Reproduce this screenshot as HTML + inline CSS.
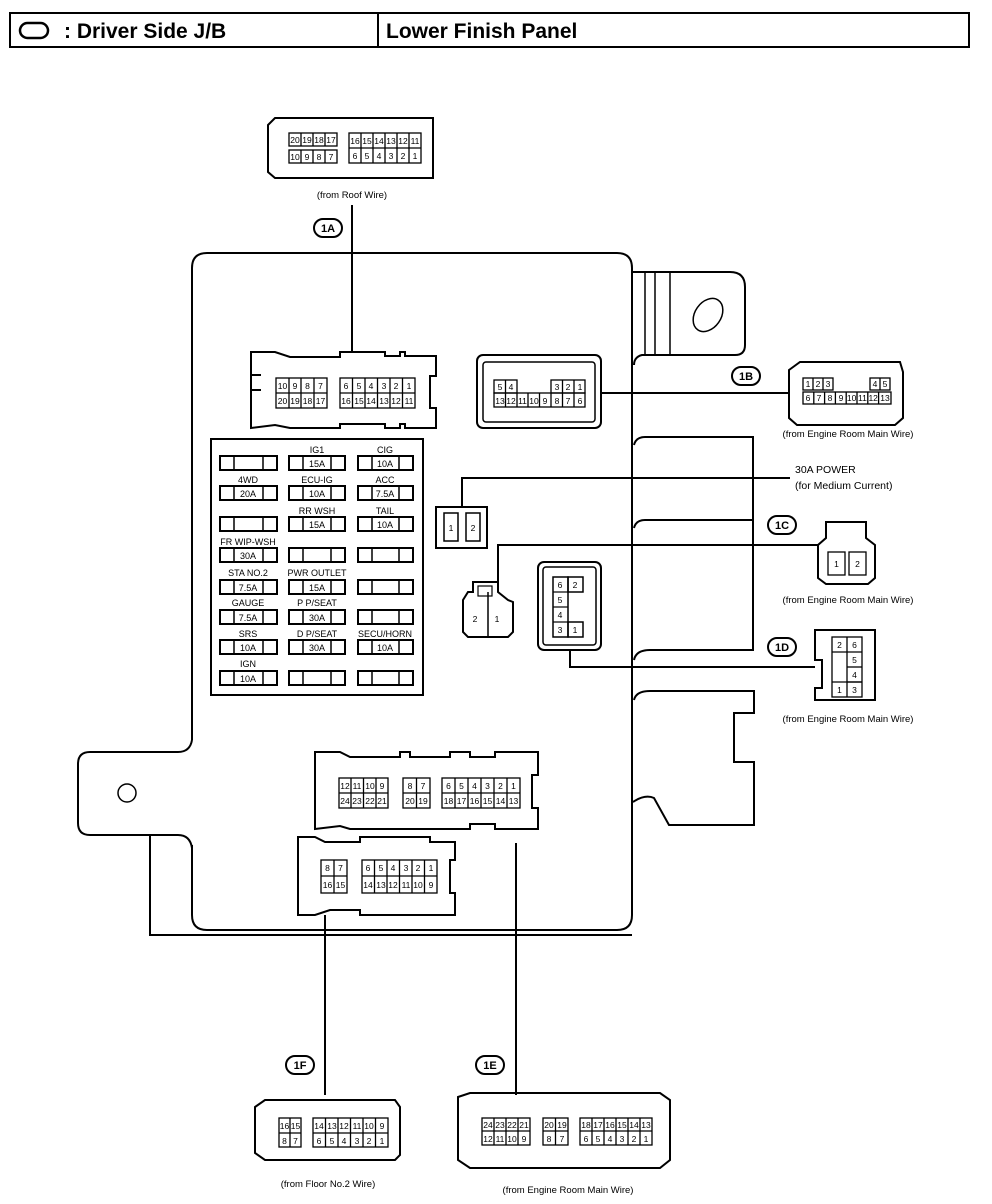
<!DOCTYPE html>
<html><head><meta charset="utf-8"><style>
html,body{margin:0;padding:0;background:#fff;}
svg{display:block}
text{font-family:"Liberation Sans",sans-serif;fill:#000}
.p{font-size:8.5px;text-anchor:middle}
.l{font-size:9.5px;text-anchor:middle}
.c{font-size:11px;text-anchor:middle;font-weight:bold}
</style></head><body>
<svg width="992" height="1204" viewBox="0 0 992 1204" xmlns="http://www.w3.org/2000/svg" fill="none" stroke="#000" stroke-width="2">
<!-- header -->
<rect x="10" y="13" width="959" height="34" stroke-width="2"/>
<line x1="378" y1="13" x2="378" y2="47"/>
<rect x="20" y="23" width="28" height="15" rx="7.5" stroke-width="2.5"/>
<text x="64" y="38" style="font-size:21px;font-weight:bold" stroke="none">: Driver Side J/B</text>
<text x="386" y="38" style="font-size:21px;font-weight:bold" stroke="none">Lower Finish Panel</text>

<!-- body -->
<path d="M192,740 L192,268 Q192,253 207,253 L617,253 Q632,253 632,268 L632,915 Q632,930 617,930 L207,930 Q192,930 192,915 L192,845"/>
<path d="M192,740 Q190,752 178,752 L90,752 Q78,752 78,764 L78,823 Q78,835 90,835 L178,835 Q190,835 192,848"/>
<path d="M150,835 L150,935 L632,935"/>
<circle cx="127" cy="793" r="9" stroke-width="1.5"/>
<!-- right bracket -->
<path d="M632,272 L730,272 Q745,272 745,287 L745,345 Q745,355 735,355 L642,355 Q634,357 634,365"/>
<line x1="645" y1="272" x2="645" y2="355" stroke-width="1.5"/>
<line x1="655" y1="272" x2="655" y2="355" stroke-width="1.5"/>
<line x1="670" y1="272" x2="670" y2="355" stroke-width="1.5"/>
<ellipse cx="708" cy="315" rx="13" ry="18" transform="rotate(35 708 315)" stroke-width="1.5"/>
<path d="M634,445 Q636,437 645,437 L753,437 L753,650 L650,650 Q636,650 634,660"/>
<path d="M634,528 Q636,520 645,520 L753,520"/>
<path d="M634,700 Q636,691 650,691 L754,691 L754,713 L734,713 L734,762 L754,762 L754,825 L669,825 L654,798 Q645,794 633,802"/>

<!-- 1A internal connector -->
<path d="M251,352 L275,352 L290,357 L340,357 L340,352 L385,352 L385,356 L400,356 L400,352 L405,352 L405,356 L436,356 L436,376 L430,376 L430,408 L436,408 L436,428 L405,428 L405,424 L400,424 L400,428 L385,428 L385,424 L340,424 L340,428 L290,428 L275,425 L251,428 Z"/>
<line x1="251" y1="375" x2="261" y2="375"/><line x1="251" y1="390" x2="261" y2="390"/>
<!-- fuse block -->
<rect x="211" y="439" width="212" height="256"/>

<!-- 1B internal -->
<rect x="477" y="355" width="124" height="73" rx="6"/>
<rect x="483" y="362" width="112" height="60" rx="3" stroke-width="1.5"/>
<!-- 30A -->
<rect x="436" y="507" width="51" height="41"/>
<rect x="444" y="513" width="14" height="28" stroke-width="1.5"/><rect x="466" y="513" width="14" height="28" stroke-width="1.5"/>
<text x="451" y="531" class="p" stroke="none">1</text><text x="473" y="531" class="p" stroke="none">2</text>
<polyline points="462,507 462,478 790,478"/>
<!-- 1C internal -->
<path d="M473,582 L498,582 L498,592 L508,600 L513,602 L513,632 L508,637 L468,637 L463,632 L463,600 L468,592 L473,592 Z"/>
<line x1="488" y1="592" x2="488" y2="637" stroke-width="1.5"/>
<rect x="478" y="586" width="14" height="10" stroke-width="1.2"/>
<text x="475" y="622" class="p" stroke="none">2</text><text x="497" y="622" class="p" stroke="none">1</text>
<polyline points="498,582 498,545 818,545"/>
<!-- 1D internal -->
<rect x="538" y="562" width="63" height="88" rx="6"/>
<rect x="543" y="567" width="53" height="78" rx="3" stroke-width="1.5"/>
<rect x="553" y="577" width="15" height="60" stroke-width="1.5"/>
<rect x="568" y="577" width="15" height="15" stroke-width="1.5"/><rect x="568" y="622" width="15" height="15" stroke-width="1.5"/>
<line x1="553" y1="592" x2="568" y2="592" stroke-width="1.2"/><line x1="553" y1="607" x2="568" y2="607" stroke-width="1.2"/><line x1="553" y1="622" x2="568" y2="622" stroke-width="1.2"/>
<g class="p" stroke="none"><text x="560" y="588">6</text><text x="575" y="588">2</text><text x="560" y="603">5</text><text x="560" y="618">4</text><text x="560" y="633">3</text><text x="575" y="633">1</text></g>
<polyline points="570,650 570,667 815,667"/>

<!-- 1E internal -->
<path d="M315,752 L340,752 L350,757 L400,757 L400,752 L410,752 L410,757 L450,757 L450,752 L470,752 L470,757 L495,757 L495,752 L538,752 L538,775 L532,775 L532,808 L538,808 L538,829 L495,829 L495,824 L470,824 L470,829 L350,829 L340,826 L315,829 Z"/>
<!-- 1F internal -->
<path d="M298,837 L315,837 L325,842 L360,842 L360,837 L430,837 L430,842 L455,842 L455,860 L450,860 L450,893 L455,893 L455,915 L360,915 L360,910 L330,910 L315,915 L298,915 Z"/>
<line x1="325" y1="915" x2="325" y2="1095"/>
<line x1="516" y1="843" x2="516" y2="1095"/>
<line x1="352" y1="205" x2="352" y2="352"/>
<line x1="601" y1="393" x2="789" y2="393"/>

<!-- labels ovals -->
<g stroke-width="2">
<rect x="314" y="219" width="28" height="18" rx="9"/>
<rect x="732" y="367" width="28" height="18" rx="9"/>
<rect x="768" y="516" width="28" height="18" rx="9"/>
<rect x="768" y="638" width="28" height="18" rx="9"/>
<rect x="286" y="1056" width="28" height="18" rx="9"/>
<rect x="476" y="1056" width="28" height="18" rx="9"/>
</g>
<g class="c" stroke="none">
<text x="328" y="232">1A</text><text x="746" y="380">1B</text><text x="782" y="529">1C</text><text x="782" y="651">1D</text><text x="300" y="1069">1F</text><text x="490" y="1069">1E</text>
</g>

<!-- external connectors outlines -->
<g stroke-width="2">
<path d="M268,125 L275,118 L433,118 L433,178 L275,178 L268,172 Z"/>
<path d="M789,370 L800,362 L900,362 L903,372 L903,418 L895,425 L797,425 L789,418 Z"/>
<path d="M826,522 L866,522 L866,538 L875,545 L875,578 L868,584 L826,584 L818,578 L818,545 L826,538 Z"/>
<path d="M815,630 L875,630 L875,700 L815,700 L815,688 L822,688 L822,660 L815,660 Z"/>
<path d="M458,1097 L470,1093 L660,1093 L670,1100 L670,1160 L660,1168 L470,1168 L458,1160 Z"/>
<path d="M255,1107 L265,1100 L395,1100 L400,1107 L400,1155 L395,1160 L265,1160 L255,1153 Z"/>
</g>

<g class="l" stroke="none">
<text x="352" y="198">(from Roof Wire)</text>
<text x="848" y="437">(from Engine Room Main Wire)</text>
<text x="848" y="603">(from Engine Room Main Wire)</text>
<text x="848" y="722">(from Engine Room Main Wire)</text>
<text x="328" y="1187">(from Floor No.2 Wire)</text>
<text x="568" y="1193">(from Engine Room Main Wire)</text>
<text x="795" y="473" style="text-anchor:start;font-size:10.5px">30A POWER</text>
<text x="795" y="489" style="text-anchor:start;font-size:10.5px">(for Medium Current)</text>
</g>

<g stroke-width="1.3">
<rect x="276" y="378" width="51" height="30"/><line x1="276" y1="393" x2="327" y2="393"/>
<line x1="289" y1="378" x2="289" y2="408"/><line x1="301" y1="378" x2="301" y2="408"/><line x1="314" y1="378" x2="314" y2="408"/>
<rect x="340" y="378" width="75" height="30"/><line x1="340" y1="393" x2="415" y2="393"/>
<line x1="352.5" y1="378" x2="352.5" y2="408"/><line x1="365" y1="378" x2="365" y2="408"/><line x1="377.5" y1="378" x2="377.5" y2="408"/><line x1="390" y1="378" x2="390" y2="408"/><line x1="402.5" y1="378" x2="402.5" y2="408"/>
<rect x="494" y="380" width="23" height="13"/><line x1="505.5" y1="380" x2="505.5" y2="393"/>
<rect x="551" y="380" width="34" height="13"/><line x1="562.5" y1="380" x2="562.5" y2="393"/><line x1="574" y1="380" x2="574" y2="393"/>
<rect x="494" y="393" width="91" height="14"/>
<line x1="505.5" y1="393" x2="505.5" y2="407"/><line x1="517" y1="393" x2="517" y2="407"/><line x1="528" y1="393" x2="528" y2="407"/><line x1="539.5" y1="393" x2="539.5" y2="407"/><line x1="551" y1="393" x2="551" y2="407"/><line x1="562.5" y1="393" x2="562.5" y2="407"/><line x1="574" y1="393" x2="574" y2="407"/>
<rect x="339" y="778" width="49" height="30"/><line x1="339" y1="793" x2="388" y2="793"/>
<line x1="351" y1="778" x2="351" y2="808"/><line x1="363.5" y1="778" x2="363.5" y2="808"/><line x1="376" y1="778" x2="376" y2="808"/>
<rect x="403" y="778" width="27" height="30"/><line x1="403" y1="793" x2="430" y2="793"/><line x1="416.5" y1="778" x2="416.5" y2="808"/>
<rect x="442" y="778" width="78" height="30"/><line x1="442" y1="793" x2="520" y2="793"/>
<line x1="455" y1="778" x2="455" y2="808"/><line x1="468" y1="778" x2="468" y2="808"/><line x1="481" y1="778" x2="481" y2="808"/><line x1="494" y1="778" x2="494" y2="808"/><line x1="507" y1="778" x2="507" y2="808"/>
<rect x="321" y="860" width="26" height="33"/><line x1="321" y1="876" x2="347" y2="876"/><line x1="334" y1="860" x2="334" y2="893"/>
<rect x="362" y="860" width="75" height="33"/><line x1="362" y1="876" x2="437" y2="876"/>
<line x1="374.5" y1="860" x2="374.5" y2="893"/><line x1="387" y1="860" x2="387" y2="893"/><line x1="399.5" y1="860" x2="399.5" y2="893"/><line x1="412" y1="860" x2="412" y2="893"/><line x1="424.5" y1="860" x2="424.5" y2="893"/>
<rect x="289" y="133" width="48" height="13"/><line x1="301" y1="133" x2="301" y2="146"/><line x1="313" y1="133" x2="313" y2="146"/><line x1="325" y1="133" x2="325" y2="146"/>
<rect x="289" y="150" width="48" height="13"/><line x1="301" y1="150" x2="301" y2="163"/><line x1="313" y1="150" x2="313" y2="163"/><line x1="325" y1="150" x2="325" y2="163"/>
<rect x="349" y="133" width="72" height="30"/><line x1="349" y1="148" x2="421" y2="148"/>
<line x1="361" y1="133" x2="361" y2="163"/><line x1="373" y1="133" x2="373" y2="163"/><line x1="385" y1="133" x2="385" y2="163"/><line x1="397" y1="133" x2="397" y2="163"/><line x1="409" y1="133" x2="409" y2="163"/>
<rect x="803" y="378" width="30" height="12"/><line x1="813" y1="378" x2="813" y2="390"/><line x1="823" y1="378" x2="823" y2="390"/>
<rect x="870" y="378" width="20" height="12"/><line x1="880" y1="378" x2="880" y2="390"/>
<rect x="803" y="392" width="88" height="12"/>
<line x1="813.8" y1="392" x2="813.8" y2="404"/><line x1="824.6" y1="392" x2="824.6" y2="404"/><line x1="835.4" y1="392" x2="835.4" y2="404"/><line x1="846.2" y1="392" x2="846.2" y2="404"/><line x1="857" y1="392" x2="857" y2="404"/><line x1="867.8" y1="392" x2="867.8" y2="404"/><line x1="878.6" y1="392" x2="878.6" y2="404"/>
<rect x="828" y="552" width="17" height="23"/><rect x="849" y="552" width="17" height="23"/>
<rect x="832" y="637" width="30" height="60"/><line x1="832" y1="652" x2="862" y2="652"/><line x1="847" y1="667" x2="862" y2="667"/><line x1="847" y1="682" x2="862" y2="682"/><line x1="832" y1="682" x2="862" y2="682"/><line x1="847" y1="637" x2="847" y2="697"/>
<rect x="482" y="1118" width="48" height="27"/><line x1="482" y1="1131" x2="530" y2="1131"/><line x1="494" y1="1118" x2="494" y2="1145"/><line x1="506" y1="1118" x2="506" y2="1145"/><line x1="518" y1="1118" x2="518" y2="1145"/>
<rect x="543" y="1118" width="25" height="27"/><line x1="543" y1="1131" x2="568" y2="1131"/><line x1="555.5" y1="1118" x2="555.5" y2="1145"/>
<rect x="580" y="1118" width="72" height="27"/><line x1="580" y1="1131" x2="652" y2="1131"/><line x1="592" y1="1118" x2="592" y2="1145"/><line x1="604" y1="1118" x2="604" y2="1145"/><line x1="616" y1="1118" x2="616" y2="1145"/><line x1="628" y1="1118" x2="628" y2="1145"/><line x1="640" y1="1118" x2="640" y2="1145"/>
<rect x="279" y="1118" width="22" height="29"/><line x1="279" y1="1133" x2="301" y2="1133"/><line x1="290" y1="1118" x2="290" y2="1147"/>
<rect x="313" y="1118" width="75" height="29"/><line x1="313" y1="1133" x2="388" y2="1133"/><line x1="325.5" y1="1118" x2="325.5" y2="1147"/><line x1="338" y1="1118" x2="338" y2="1147"/><line x1="350.5" y1="1118" x2="350.5" y2="1147"/><line x1="363" y1="1118" x2="363" y2="1147"/><line x1="375.5" y1="1118" x2="375.5" y2="1147"/>
</g>
<g class="p" stroke="none">
<text x="282.5" y="389">10</text><text x="295" y="389">9</text><text x="307.5" y="389">8</text><text x="320.5" y="389">7</text>
<text x="282.5" y="404">20</text><text x="295" y="404">19</text><text x="307.5" y="404">18</text><text x="320.5" y="404">17</text>
<text x="346" y="389">6</text><text x="359" y="389">5</text><text x="371" y="389">4</text><text x="384" y="389">3</text><text x="396" y="389">2</text><text x="409" y="389">1</text>
<text x="346" y="404">16</text><text x="359" y="404">15</text><text x="371" y="404">14</text><text x="384" y="404">13</text><text x="396" y="404">12</text><text x="409" y="404">11</text>
<text x="500" y="390">5</text><text x="511" y="390">4</text><text x="557" y="390">3</text><text x="568" y="390">2</text><text x="580" y="390">1</text>
<text x="500" y="404">13</text><text x="511" y="404">12</text><text x="522.5" y="404">11</text><text x="534" y="404">10</text><text x="545" y="404">9</text><text x="557" y="404">8</text><text x="568" y="404">7</text><text x="580" y="404">6</text>
<text x="345" y="789">12</text><text x="357" y="789">11</text><text x="370" y="789">10</text><text x="382" y="789">9</text>
<text x="345" y="804">24</text><text x="357" y="804">23</text><text x="370" y="804">22</text><text x="382" y="804">21</text>
<text x="410" y="789">8</text><text x="423" y="789">7</text><text x="410" y="804">20</text><text x="423" y="804">19</text>
<text x="448.5" y="789">6</text><text x="461.5" y="789">5</text><text x="474.5" y="789">4</text><text x="487.5" y="789">3</text><text x="500.5" y="789">2</text><text x="513.5" y="789">1</text>
<text x="448.5" y="804">18</text><text x="461.5" y="804">17</text><text x="474.5" y="804">16</text><text x="487.5" y="804">15</text><text x="500.5" y="804">14</text><text x="513.5" y="804">13</text>
<text x="327.5" y="871">8</text><text x="340.5" y="871">7</text><text x="327.5" y="888">16</text><text x="340.5" y="888">15</text>
<text x="368" y="871">6</text><text x="381" y="871">5</text><text x="393" y="871">4</text><text x="406" y="871">3</text><text x="418" y="871">2</text><text x="431" y="871">1</text>
<text x="368" y="888">14</text><text x="381" y="888">13</text><text x="393" y="888">12</text><text x="406" y="888">11</text><text x="418" y="888">10</text><text x="431" y="888">9</text>
<text x="295" y="143">20</text><text x="307" y="143">19</text><text x="319" y="143">18</text><text x="331" y="143">17</text>
<text x="295" y="160">10</text><text x="307" y="160">9</text><text x="319" y="160">8</text><text x="331" y="160">7</text>
<text x="355" y="144">16</text><text x="367" y="144">15</text><text x="379" y="144">14</text><text x="391" y="144">13</text><text x="403" y="144">12</text><text x="415" y="144">11</text>
<text x="355" y="159">6</text><text x="367" y="159">5</text><text x="379" y="159">4</text><text x="391" y="159">3</text><text x="403" y="159">2</text><text x="415" y="159">1</text>
<text x="808" y="387">1</text><text x="818" y="387">2</text><text x="828" y="387">3</text><text x="875" y="387">4</text><text x="885" y="387">5</text>
<text x="808" y="401">6</text><text x="819" y="401">7</text><text x="830" y="401">8</text><text x="841" y="401">9</text><text x="851.6" y="401">10</text><text x="862.4" y="401">11</text><text x="873.2" y="401">12</text><text x="885" y="401">13</text>
<text x="836.5" y="567">1</text><text x="857.5" y="567">2</text>
<text x="839.5" y="648">2</text><text x="854.5" y="648">6</text><text x="854.5" y="663">5</text><text x="854.5" y="678">4</text><text x="839.5" y="693">1</text><text x="854.5" y="693">3</text>
<text x="488" y="1128">24</text><text x="500" y="1128">23</text><text x="512" y="1128">22</text><text x="524" y="1128">21</text>
<text x="488" y="1142">12</text><text x="500" y="1142">11</text><text x="512" y="1142">10</text><text x="524" y="1142">9</text>
<text x="549" y="1128">20</text><text x="562" y="1128">19</text><text x="549" y="1142">8</text><text x="562" y="1142">7</text>
<text x="586" y="1128">18</text><text x="598" y="1128">17</text><text x="610" y="1128">16</text><text x="622" y="1128">15</text><text x="634" y="1128">14</text><text x="646" y="1128">13</text>
<text x="586" y="1142">6</text><text x="598" y="1142">5</text><text x="610" y="1142">4</text><text x="622" y="1142">3</text><text x="634" y="1142">2</text><text x="646" y="1142">1</text>
<text x="284.5" y="1129">16</text><text x="295.5" y="1129">15</text><text x="284.5" y="1144">8</text><text x="295.5" y="1144">7</text>
<text x="319" y="1129">14</text><text x="332" y="1129">13</text><text x="344" y="1129">12</text><text x="357" y="1129">11</text><text x="369" y="1129">10</text><text x="382" y="1129">9</text>
<text x="319" y="1144">6</text><text x="332" y="1144">5</text><text x="344" y="1144">4</text><text x="357" y="1144">3</text><text x="369" y="1144">2</text><text x="382" y="1144">1</text>
</g>

<!-- fuses -->
<g stroke-width="2">
<rect x="220" y="456" width="57" height="14"/><rect x="289" y="456" width="56" height="14"/><rect x="358" y="456" width="55" height="14"/>
<rect x="220" y="486" width="57" height="14"/><rect x="289" y="486" width="56" height="14"/><rect x="358" y="486" width="55" height="14"/>
<rect x="220" y="517" width="57" height="14"/><rect x="289" y="517" width="56" height="14"/><rect x="358" y="517" width="55" height="14"/>
<rect x="220" y="548" width="57" height="14"/><rect x="289" y="548" width="56" height="14"/><rect x="358" y="548" width="55" height="14"/>
<rect x="220" y="580" width="57" height="14"/><rect x="289" y="580" width="56" height="14"/><rect x="358" y="580" width="55" height="14"/>
<rect x="220" y="610" width="57" height="14"/><rect x="289" y="610" width="56" height="14"/><rect x="358" y="610" width="55" height="14"/>
<rect x="220" y="640" width="57" height="14"/><rect x="289" y="640" width="56" height="14"/><rect x="358" y="640" width="55" height="14"/>
<rect x="220" y="671" width="57" height="14"/><rect x="289" y="671" width="56" height="14"/><rect x="358" y="671" width="55" height="14"/>
</g>
<g stroke-width="1.5">
<path d="M234,456v14M263,456v14M303,456v14M331,456v14M372,456v14M399,456v14
M234,486v14M263,486v14M303,486v14M331,486v14M372,486v14M399,486v14
M234,517v14M263,517v14M303,517v14M331,517v14M372,517v14M399,517v14
M234,548v14M263,548v14M303,548v14M331,548v14M372,548v14M399,548v14
M234,580v14M263,580v14M303,580v14M331,580v14M372,580v14M399,580v14
M234,610v14M263,610v14M303,610v14M331,610v14M372,610v14M399,610v14
M234,640v14M263,640v14M303,640v14M331,640v14M372,640v14M399,640v14
M234,671v14M263,671v14M303,671v14M331,671v14M372,671v14M399,671v14"/>
</g>
<g class="l" stroke="none" style="font-size:9px">
<text x="317" y="453">IG1</text><text x="385" y="453">CIG</text>
<text x="317" y="467">15A</text><text x="385" y="467">10A</text>
<text x="248" y="483">4WD</text><text x="317" y="483">ECU-IG</text><text x="385" y="483">ACC</text>
<text x="248" y="497">20A</text><text x="317" y="497">10A</text><text x="385" y="497">7.5A</text>
<text x="317" y="514">RR WSH</text><text x="385" y="514">TAIL</text>
<text x="317" y="528">15A</text><text x="385" y="528">10A</text>
<text x="248" y="545">FR WIP-WSH</text><text x="248" y="559">30A</text>
<text x="248" y="576">STA NO.2</text><text x="317" y="576">PWR OUTLET</text>
<text x="248" y="591">7.5A</text><text x="317" y="591">15A</text>
<text x="248" y="606">GAUGE</text><text x="317" y="606">P P/SEAT</text>
<text x="248" y="621">7.5A</text><text x="317" y="621">30A</text>
<text x="248" y="637">SRS</text><text x="317" y="637">D P/SEAT</text><text x="385" y="637">SECU/HORN</text>
<text x="248" y="651">10A</text><text x="317" y="651">30A</text><text x="385" y="651">10A</text>
<text x="248" y="667">IGN</text><text x="248" y="682">10A</text>
</g>
</svg>
</body></html>
